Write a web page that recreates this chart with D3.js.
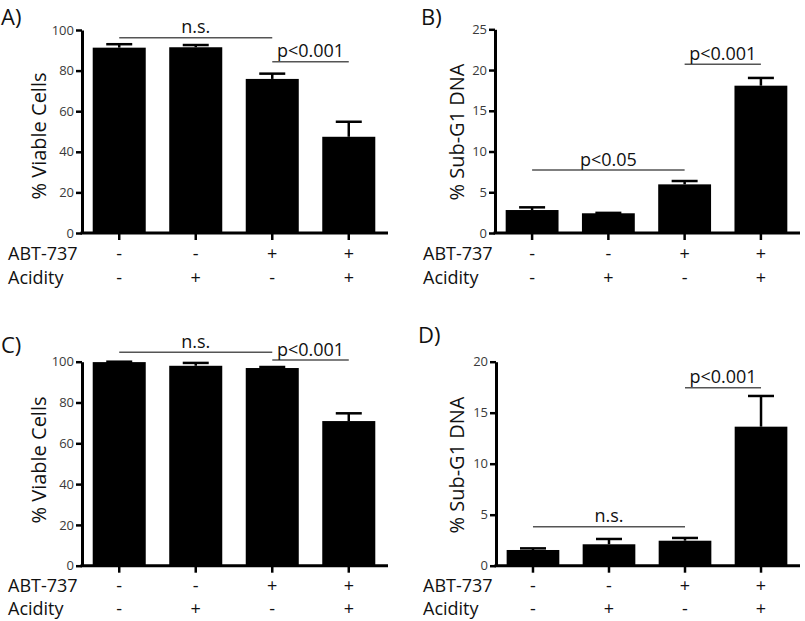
<!DOCTYPE html>
<html><head><meta charset="utf-8">
<script src="https://cdn.jsdelivr.net/npm/d3@7"></script>
<style>
body{margin:0;background:#fff;}
text{font-family:"Open Sans",sans-serif;}
</style></head>
<body>
<svg id="chart" width="805" height="621"></svg>
<script>
// ---- data ----
const groups = ["g1","g2","g3","g4"];
const abtSigns = ["-","-","+","+"];
const aciditySigns = ["-","+","-","+"];
const rowLabels = ["ABT-737","Acidity"];

const valuesA = [91.3, 91.5, 75.9, 47.4];
const errorsA = [1.7, 1.1, 2.6, 7.4];
const valuesB = [2.82, 2.42, 5.97, 18.08];
const errorsB = [0.33, 0.05, 0.41, 0.95];
const valuesC = [99.8, 98.0, 96.9, 70.9];
const errorsC = [0.2, 1.4, 0.5, 3.8];
const valuesD = [1.54, 2.10, 2.45, 13.63];
const errorsD = [0.16, 0.52, 0.27, 3.01];

const ticksA = [0,20,40,60,80,100];
const ticksB = [0,5,10,15,20,25];
const ticksC = [0,20,40,60,80,100];
const ticksD = [0,5,10,15,20];

const sigA = [{from:0,to:2,level:96.2,label:"n.s."},{from:2,to:3,level:84.4,label:"p<0.001"}];
const sigB = [{from:0,to:2,level:7.73,label:"p<0.05"},{from:2,to:3,level:20.7,label:"p<0.001"}];
const sigC = [{from:0,to:2,level:104.6,label:"n.s."},{from:2,to:3,level:100.8,label:"p<0.001"}];
const sigD = [{from:0,to:2,level:3.82,label:"n.s."},{from:2,to:3,level:17.45,label:"p<0.001"}];

// ---- layout ----
const panels = [
  {letter:"A)", lx:1, ly:25, yTitle:"% Viable Cells", values:valuesA, errors:errorsA, ticks:ticksA, max:100, sig:sigA,
   x0:82, x1:388, y0:233, yTop:30, titleX:39, titleY:136, rowX:8, row1:260, row2:284},
  {letter:"B)", lx:421, ly:25, yTitle:"% Sub-G1 DNA", values:valuesB, errors:errorsB, ticks:ticksB, max:25, sig:sigB,
   x0:495, x1:800, y0:233, yTop:29.3, titleX:457, titleY:132, rowX:423, row1:260, row2:284},
  {letter:"C)", lx:1, ly:353, yTitle:"% Viable Cells", values:valuesC, errors:errorsC, ticks:ticksC, max:100, sig:sigC,
   x0:82, x1:388, y0:565.7, yTop:361.7, titleX:39, titleY:460, rowX:8, row1:592, row2:615},
  {letter:"D)", lx:418, ly:343, yTitle:"% Sub-G1 DNA", values:valuesD, errors:errorsD, ticks:ticksD, max:20, sig:sigD,
   x0:496, x1:800, y0:565.7, yTop:361.7, titleX:457, titleY:465, rowX:423, row1:592, row2:615}
];

const svg = d3.select("#chart");

panels.forEach(p => {
  const g = svg.append("g");
  const x = d3.scaleBand().domain(groups).range([p.x0, p.x0 + (p.x1 - p.x0 - 2)])
    .paddingInner(0.307).paddingOuter(0.14);
  const y = d3.scaleLinear().domain([0, p.max]).range([p.y0, p.yTop]);

  g.append("text").attr("x", p.lx).attr("y", p.ly).attr("font-size", 22).attr("fill", "#111").text(p.letter);

  g.selectAll("rect.bar").data(p.values).join("rect")
    .attr("x", (d,i) => x(groups[i])).attr("width", x.bandwidth())
    .attr("y", d => y(d)).attr("height", d => y(0) - y(d)).attr("fill", "#000");

  const cw = 13;
  p.values.forEach((v,i) => {
    const cx = x(groups[i]) + x.bandwidth()/2;
    const top = y(v + p.errors[i]);
    g.append("line").attr("x1", cx).attr("x2", cx).attr("y1", y(v)).attr("y2", top)
      .attr("stroke", "#000").attr("stroke-width", 2.5);
    g.append("line").attr("x1", cx - cw).attr("x2", cx + cw).attr("y1", top).attr("y2", top)
      .attr("stroke", "#000").attr("stroke-width", 2.5);
  });

  const ya = g.append("g").attr("transform", `translate(${p.x0},0)`)
    .call(d3.axisLeft(y).tickValues(p.ticks).tickFormat(d3.format("d")).tickSize(6).tickSizeOuter(0).tickPadding(2));
  ya.select(".domain").attr("stroke", "#000").attr("stroke-width", 3);
  ya.selectAll(".tick line").attr("stroke", "#000").attr("stroke-width", 2.5);
  ya.selectAll(".tick text").attr("font-size", 13).attr("fill", "#3a3a3a").attr("font-family", '"Open Sans",sans-serif');

  const xa = g.append("g").attr("transform", `translate(0,${p.y0})`)
    .call(d3.axisBottom(x).tickSize(7).tickFormat(""));
  xa.select(".domain").remove();
  xa.selectAll(".tick line").attr("stroke", "#000").attr("stroke-width", 2.5);
  g.append("line").attr("x1", p.x0 - 1.5).attr("x2", p.x1).attr("y1", p.y0).attr("y2", p.y0)
    .attr("stroke", "#000").attr("stroke-width", 3);

  g.append("text").attr("transform", `translate(${p.titleX},${p.titleY}) rotate(-90)`)
    .attr("text-anchor", "middle").attr("dy", "0.35em").attr("font-size", 20).attr("fill", "#111").text(p.yTitle);

  [[abtSigns, p.row1, rowLabels[0]], [aciditySigns, p.row2, rowLabels[1]]].forEach(([signs, ry, lab]) => {
    g.append("text").attr("x", p.rowX).attr("y", ry).attr("font-size", 18).attr("fill", "#111").text(lab);
    g.selectAll(null).data(signs).join("text")
      .attr("x", (d,i) => x(groups[i]) + x.bandwidth()/2).attr("y", ry)
      .attr("text-anchor", "middle").attr("font-size", 18).attr("fill", "#111").text(d => d);
  });

  p.sig.forEach(s => {
    const xa1 = x(groups[s.from]) + x.bandwidth()/2;
    const xa2 = x(groups[s.to]) + x.bandwidth()/2;
    const ly = y(s.level);
    g.append("line").attr("x1", xa1).attr("x2", xa2).attr("y1", ly).attr("y2", ly)
      .attr("stroke", "#555").attr("stroke-width", 1.5);
    g.append("text").attr("x", (xa1 + xa2)/2).attr("y", ly - 4.5).attr("text-anchor", "middle")
      .attr("font-size", 18).attr("fill", "#111").text(s.label);
  });
});
</script>
</body></html>
